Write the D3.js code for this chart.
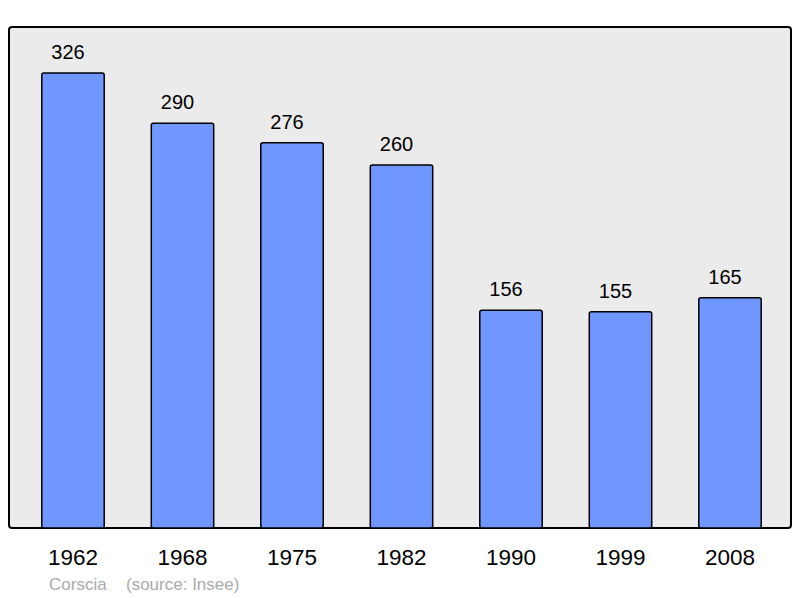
<!DOCTYPE html>
<html><head><meta charset="utf-8">
<script src="https://cdn.jsdelivr.net/npm/d3@7"></script>
<style>body{margin:0;background:#fff}svg{display:block}</style>
</head><body>
<svg id="c" width="800" height="598"></svg>
<script>
const years = ["1962","1968","1975","1982","1990","1999","2008"];
const population = [326,290,276,260,156,155,165];
const place = "Corscia";
const source = "(source: Insee)";

const svg = d3.select("#c");
const font = "'Liberation Sans', Arial, sans-serif";

svg.append("rect").attr("x",9).attr("y",27).attr("width",782).attr("height",501)
  .attr("rx",3).attr("fill","#ebebeb").attr("stroke","#000").attr("stroke-width",2);

const x = d3.scaleBand().domain(years).range([18.25,784.75]).paddingInner(0.43).paddingOuter(0.215);
const y = d3.scaleLinear().domain([0,326]).range([528,73]);

const g = svg.append("g");
g.selectAll("rect.bar").data(years).join("rect").attr("class","bar")
  .attr("x",d=>x(d)).attr("width",x.bandwidth())
  .attr("y",(d,i)=>y(population[i])).attr("height",(d,i)=>528-y(population[i]))
  .attr("rx",2).attr("fill","#7097ff").attr("stroke","#000").attr("stroke-width",1.5);

g.selectAll("text.val").data(years).join("text").attr("class","val")
  .attr("x",d=>x(d)+x.bandwidth()/2-5).attr("y",(d,i)=>y(population[i])-14)
  .attr("text-anchor","middle").attr("font-family",font).attr("font-size",20)
  .text((d,i)=>population[i]);

const axis = d3.axisBottom(x).tickSize(0).tickPadding(0);
const ax = svg.append("g").attr("transform","translate(0,565)").call(axis);
ax.select(".domain").remove();
ax.selectAll("text").attr("font-family",font).attr("font-size",22.5).attr("fill","#000").attr("dy","0");

svg.append("text").attr("x",49).attr("y",590).attr("font-family",font).attr("font-size",17)
  .attr("fill","#aaa").text(place);
svg.append("text").attr("x",126).attr("y",590).attr("font-family",font).attr("font-size",17)
  .attr("fill","#aaa").text(source);
</script>
</body></html>
